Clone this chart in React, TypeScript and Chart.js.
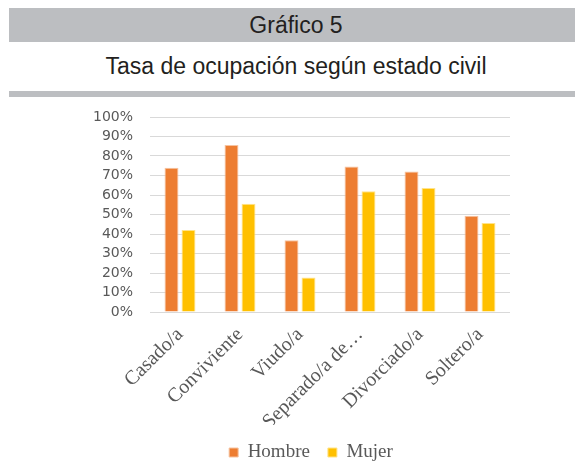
import React, { useEffect, useRef } from "react";
import { Chart, registerables } from "chart.js";

Chart.register(...registerables);

const categories = ["Casado/a", "Conviviente", "Viudo/a", "Separado/a de…", "Divorciado/a", "Soltero/a"];
const hombre = [74, 85.7, 36.8, 74.6, 72, 49.3];
const mujer = [42, 55.5, 17.7, 61.9, 63.6, 45.7];
const seriesNames = ["Hombre", "Mujer"];
const yMax = 100;
const yStep = 10;

export default function App() {
  const ref = useRef<HTMLCanvasElement | null>(null);

  useEffect(() => {
    if (!ref.current) return;
    const chart = new Chart(ref.current, {
      type: "bar",
      data: {
        labels: categories,
        datasets: [
          {
            label: seriesNames[0],
            data: hombre,
            backgroundColor: "#ED7D31",
            borderColor: "#f6c3a0",
            borderWidth: 1,
            categoryPercentage: 0.567,
            barPercentage: 0.82,
          },
          {
            label: seriesNames[1],
            data: mujer,
            backgroundColor: "#FFC000",
            borderColor: "#ffe38a",
            borderWidth: 1,
            categoryPercentage: 0.567,
            barPercentage: 0.82,
          },
        ],
      },
      options: {
        animation: false,
        responsive: false,
        maintainAspectRatio: false,
        layout: { padding: { top: 20, right: 1, left: 0, bottom: 0 } },
        plugins: {
          tooltip: { enabled: false },
          legend: {
            position: "bottom",
            labels: {
              boxWidth: 9,
              boxHeight: 9,
              padding: 18,
              color: "#595959",
              font: { family: "'Liberation Serif', 'Times New Roman', serif", size: 19 },
            },
          },
        },
        scales: {
          x: {
            grid: { display: false },
            border: { display: false },
            ticks: {
              minRotation: 45,
              maxRotation: 45,
              padding: 3,
              autoSkip: false,
              color: "#595959",
              font: { family: "'Liberation Serif', 'Times New Roman', serif", size: 20 },
            },
            afterFit: (s: any) => {
              s.height = 113;
            },
          },
          y: {
            min: 0,
            max: yMax,
            ticks: {
              stepSize: yStep,
              padding: 17,
              autoSkip: false,
              color: "#595959",
              font: { family: "'DejaVu Sans', sans-serif", size: 14 },
              callback: (v: any) => v + "%",
            },
            grid: { color: "#d9d9d9", lineWidth: 1, drawTicks: false },
            border: { display: false },
            afterFit: (s: any) => {
              s.width = 110;
              s.paddingTop = 0;
              s.paddingBottom = 0;
            },
          },
          spacer: {
            type: "linear",
            position: "right",
            min: 0,
            max: yMax,
            ticks: { display: false },
            grid: { display: false, drawTicks: false },
            border: { display: false },
            afterFit: (s: any) => {
              s.width = 72;
              s.paddingTop = 0;
              s.paddingBottom = 0;
            },
          },
        },
      },
    });
    return () => chart.destroy();
  }, []);

  return (
    <div style={{ position: "relative", height: 458, fontFamily: "'Liberation Sans', Arial, sans-serif" }}>
      <div
        style={{
          position: "absolute",
          left: 1,
          top: 0,
          width: 574,
          height: 34,
          background: "#bcbec1",
          color: "#231f20",
          fontSize: 23,
          lineHeight: "34px",
          textAlign: "center",
        }}
      >
        Gráfico 5
      </div>
      <div
        style={{
          position: "absolute",
          left: 1,
          top: 47,
          width: 574,
          height: 23,
          color: "#231f20",
          fontSize: 23,
          lineHeight: "23px",
          textAlign: "center",
        }}
      >
        Tasa de ocupación según estado civil
      </div>
      <div style={{ position: "absolute", left: 1, top: 83, width: 574, height: 6, background: "#bcbec1" }} />
      <div style={{ position: "absolute", left: 32, top: 89, width: 543, height: 369, overflow: "hidden" }}>
        <canvas ref={ref} width={543} height={375} style={{ display: "block", width: 543, height: 375 }} />
      </div>
    </div>
  );
}
